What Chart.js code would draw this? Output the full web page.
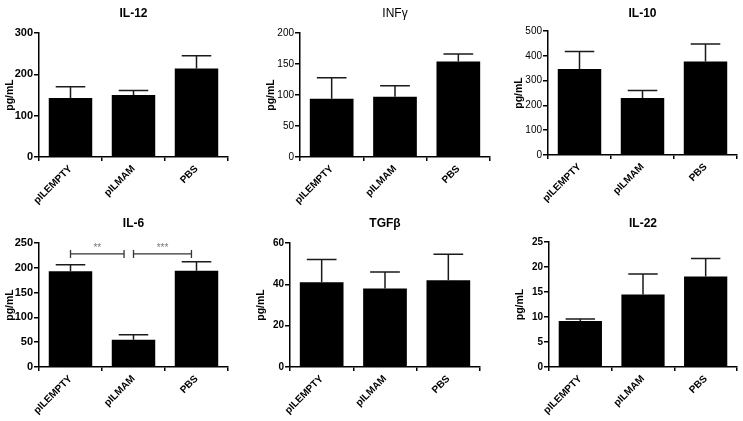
<!DOCTYPE html>
<html lang="en">
<head>
<meta charset="UTF-8" />
<title>Cytokines</title>
<style>
  body { margin: 0; background: #fff; }
  #wrap { position: relative; width: 743px; height: 421px; overflow: hidden; }
  #wrap canvas { position: absolute; }
</style>
</head>
<body>
<div id="wrap"></div>
<script src="https://cdn.jsdelivr.net/npm/chart.js"></script>
<script>
// data (mean and SEM, pg/mL)
const groups = ["pILEMPTY", "pILMAM", "PBS"];
const il12Mean = [143, 150, 214];
const il12Sem = [27, 11, 31];
const infgMean = [94, 97, 154];
const infgSem = [34, 18, 12];
const il10Mean = [347, 230, 377];
const il10Sem = [70, 30, 71];
const il6Mean = [193, 55, 194];
const il6Sem = [13, 10, 18];
const tgfbMean = [41, 38, 42];
const tgfbSem = [11, 8, 12.5];
const il22Mean = [9.2, 14.5, 18.1];
const il22Sem = [0.4, 4.1, 3.6];

// significance brackets on IL-6: from / to (category index), height, label
const il6Brackets = [
  { from: 0, to: 0.85, y: 228, label: "**" },
  { from: 1, to: 1.92, y: 228, label: "***" },
];

const FONT = "'Liberation Sans', Arial, sans-serif";
const Y_W = 36;

// box = canvas [left, top, w, h]; area = plot [left, right, top, bottom]
const panels = [
  { title: "IL-12", mean: il12Mean, sem: il12Sem, max: 300, step: 100,
    box: [0, 0, 245, 210], area: [39, 228, 33, 157], tick: 11, tickBold: true, titleBold: true },
  { title: "INFγ", mean: infgMean, sem: infgSem, max: 200, step: 50,
    box: [245, 0, 250, 210], area: [300, 490, 33, 157], tick: 10, tickBold: false, titleBold: false },
  { title: "IL-10", mean: il10Mean, sem: il10Sem, max: 500, step: 100,
    box: [495, 0, 248, 210], area: [548, 737, 31, 155], tick: 10, tickBold: false, titleBold: true },
  { title: "IL-6", mean: il6Mean, sem: il6Sem, max: 250, step: 50, brackets: il6Brackets,
    box: [0, 210, 245, 211], area: [39, 228, 243, 367], tick: 11, tickBold: true, titleBold: true },
  { title: "TGFβ", mean: tgfbMean, sem: tgfbSem, max: 60, step: 20,
    box: [245, 210, 250, 211], area: [290, 480, 243, 367], tick: 10, tickBold: true, titleBold: true },
  { title: "IL-22", mean: il22Mean, sem: il22Sem, max: 25, step: 5,
    box: [495, 210, 248, 211], area: [549, 737, 242, 367], tick: 10, tickBold: true, titleBold: true },
];

const errorBars = {
  id: "errorBars",
  afterDatasetsDraw(chart, args, opts) {
    const { ctx } = chart;
    const y = chart.scales.y;
    const meta = chart.getDatasetMeta(0);
    ctx.save();
    ctx.strokeStyle = "#1a1a1a";
    ctx.lineWidth = 1.5;
    meta.data.forEach((bar, i) => {
      const top = y.getPixelForValue(opts.mean[i] + opts.sem[i]);
      const half = bar.width * 0.34;
      ctx.beginPath();
      ctx.moveTo(bar.x, bar.y);
      ctx.lineTo(bar.x, top);
      ctx.moveTo(bar.x - half, top);
      ctx.lineTo(bar.x + half, top);
      ctx.stroke();
    });
    (opts.brackets || []).forEach((b) => {
      const x1 = chart.scales.x.getPixelForValue(b.from);
      const x2 = chart.scales.x.getPixelForValue(b.to);
      const py = y.getPixelForValue(b.y);
      ctx.strokeStyle = "#333";
      ctx.lineWidth = 1.3;
      ctx.beginPath();
      ctx.moveTo(x1, py); ctx.lineTo(x2, py);
      ctx.moveTo(x1, py - 4); ctx.lineTo(x1, py + 4);
      ctx.moveTo(x2, py - 4); ctx.lineTo(x2, py + 4);
      ctx.stroke();
      ctx.fillStyle = "#7a7a7a";
      ctx.font = "10px " + FONT;
      ctx.textAlign = "center";
      ctx.textBaseline = "bottom";
      ctx.fillText(b.label, (x1 + x2) / 2, py - 1);
    });
    ctx.restore();
  },
};

const wrap = document.getElementById("wrap");

panels.forEach((p) => {
  const [bl, bt, bw, bh] = p.box;
  const [al, ar, at, ab] = p.area;
  const canvas = document.createElement("canvas");
  canvas.width = bw;
  canvas.height = bh;
  canvas.style.left = bl + "px";
  canvas.style.top = bt + "px";
  canvas.style.width = bw + "px";
  canvas.style.height = bh + "px";
  wrap.appendChild(canvas);

  const xH = bt + bh - ab;
  const titleTop = 14 - 7.2;

  new Chart(canvas, {
    type: "bar",
    data: {
      labels: groups,
      datasets: [{
        data: p.mean,
        backgroundColor: "#000",
        borderWidth: 0,
        categoryPercentage: 0.69,
        barPercentage: 1,
      }],
    },
    options: {
      responsive: false,
      animation: false,
      events: [],
      layout: {
        padding: { left: al - bl - Y_W, right: bl + bw - ar, top: 0, bottom: 0 },
      },
      plugins: {
        legend: { display: false },
        tooltip: { enabled: false },
        title: {
          display: true,
          text: p.title,
          fullSize: false,
          color: "#000",
          font: { family: FONT, size: 12, weight: p.titleBold ? "bold" : "normal", lineHeight: 1.2 },
          padding: { top: titleTop, bottom: at - bt - titleTop - 14.4 },
        },
        errorBars: { mean: p.mean, sem: p.sem, brackets: p.brackets },
      },
      scales: {
        x: {
          afterFit: (s) => { s.height = xH; },
          border: { display: true, color: "#000", width: 1.5 },
          grid: { display: true, drawOnChartArea: false, drawTicks: true, tickLength: 4, color: "#000", lineWidth: 1.5 },
          ticks: {
            color: "#000",
            minRotation: 45,
            maxRotation: 45,
            padding: 2,
            font: { family: FONT, size: 10, weight: "bold" },
          },
        },
        y: {
          min: 0,
          max: p.max,
          afterFit: (s) => { s.width = Y_W; },
          border: { display: true, color: "#000", width: 1.5 },
          grid: { display: true, drawOnChartArea: false, drawTicks: true, tickLength: 5, color: "#000", lineWidth: 1.5 },
          ticks: {
            stepSize: p.step,
            color: "#000",
            padding: 1,
            font: { family: FONT, size: p.tick, weight: p.tickBold ? "bold" : "normal" },
          },
          title: {
            display: true,
            text: "pg/mL",
            color: "#000",
            padding: { top: 1, bottom: 0 },
            font: { family: FONT, size: 10.5, weight: "bold" },
          },
        },
      },
    },
    plugins: [errorBars],
  });
});
</script>
</body>
</html>
